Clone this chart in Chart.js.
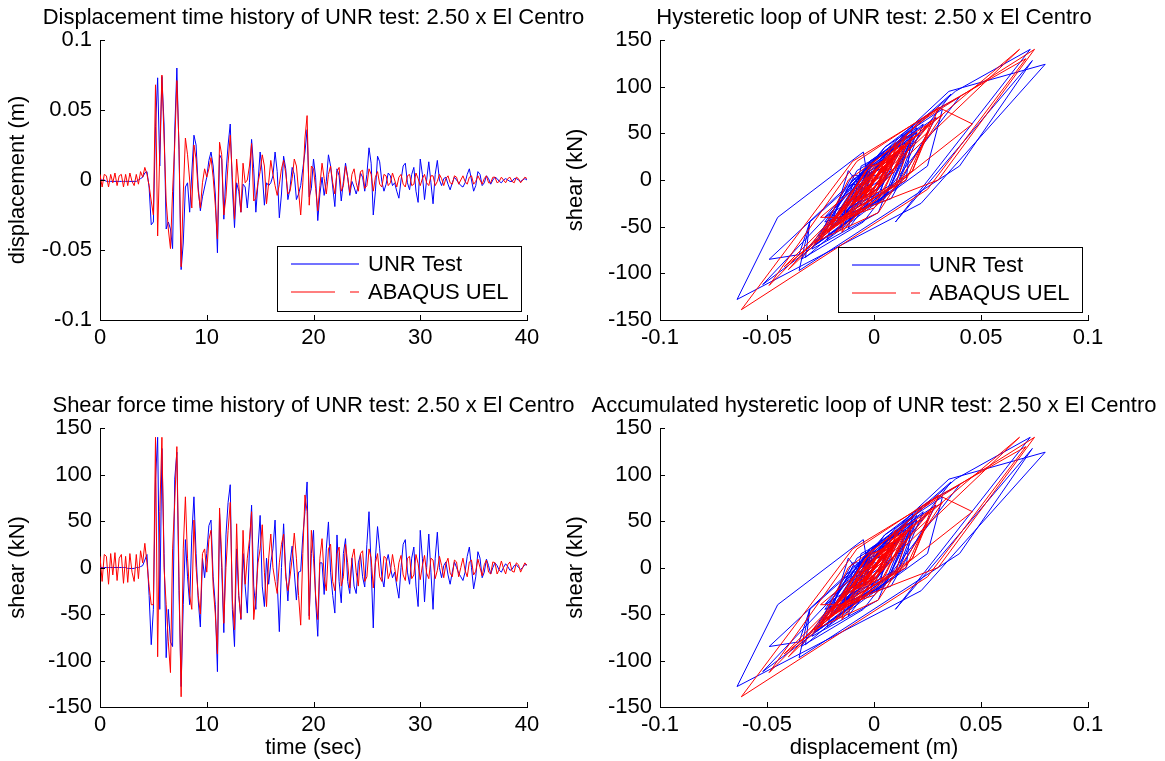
<!DOCTYPE html>
<html>
<head>
<meta charset="utf-8">
<script src="https://cdn.jsdelivr.net/npm/chart.js@4.4.1/dist/chart.umd.min.js"></script>
<style>
  html, body { margin: 0; padding: 0; background: #fff; }
  #wrap { position: relative; width: 1165px; height: 761px; }
  #wrap canvas { position: absolute; left: 0; top: 0; }
</style>
</head>
<body>
<div id="wrap">
  <canvas id="c1" width="1165" height="761"></canvas>
  <canvas id="c2" width="1165" height="761"></canvas>
  <canvas id="c3" width="1165" height="761"></canvas>
  <canvas id="c4" width="1165" height="761"></canvas>
</div>
<script>
// ---------------------------------------------------------------- DATA
// sampled every DT seconds, 0 .. 40 s (one row = 2 s)
var DT = 0.2;

var dispTest = [
  0, 0, 0, -0.001, -0.001, -0.001, -0.001, -0.001, -0.001, -0.001,
  -0.001, -0.001, -0.001, -0.001, -0.001, -0.001, -0.001, -0.001, 0, 0.001,
  0.002, 0.005, 0.006, -0.005, -0.032, -0.030, 0.038, 0.073, 0.010, 0.074,
  0.040, -0.035, -0.030, -0.035, -0.049, 0.035, 0.080, 0.022, -0.064, -0.045,
  -0.005, -0.002, -0.023, 0.005, 0.032, 0.025, -0.005, -0.022, -0.012, -0.005,
  0.002, 0.014, 0.020, 0.010, -0.010, -0.052, 0.018, 0.015, -0.028, 0.005,
  0.025, 0.040, -0.005, -0.034, -0.002, -0.008, -0.023, -0.003, -0.005, -0.020,
  -0.002, 0.029, 0.008, -0.023, -0.002, 0.020, 0.005, -0.018, -0.002, -0.004,
  -0.002, 0.003, 0.020, 0.006, -0.027, -0.010, 0.017, 0.008, -0.014, -0.006,
  0.009, 0.004, -0.014, -0.010, -0.004, 0.008, 0.020, 0.036, -0.012, -0.006,
  0.015, 0.002, -0.029, -0.010, 0.002, -0.011, -0.001, 0.018, 0.010, -0.005,
  -0.019, 0.008, 0.003, -0.015, -0.001, 0.012, 0.002, -0.011, -0.001, -0.005,
  -0.010, -0.004, 0.005, 0.002, -0.008, 0.004, 0.023, 0.012, -0.025, -0.008,
  0.017, 0.013, -0.001, -0.008, -0.003, 0.005, 0.003, -0.004, -0.002, -0.008,
  -0.013, 0, 0.010, 0.012, -0.002, -0.007, 0.004, 0.009, -0.008, -0.016,
  0.015, 0.004, -0.014, 0, 0.013, -0.002, -0.017, 0.004, 0.014, 0,
  -0.004, 0.001, 0.002, -0.003, -0.007, -0.002, 0.002, 0, -0.002, -0.004,
  -0.005, -0.002, 0.004, 0.008, 0, -0.008, -0.004, 0.006, 0.004, -0.004,
  -0.002, 0.003, 0.001, -0.003, 0, 0.002, 0.001, -0.001, -0.002, 0,
  0.001, 0, -0.001, -0.001, 0.001, 0.001, 0, -0.001, 0, 0.001,
  0
];

var dispUel = [
  0.004, -0.005, 0.004, 0.003, -0.005, 0.004, -0.002, 0.005, -0.004, 0.003,
  0.004, -0.005, 0.004, -0.004, 0.005, -0.001, -0.004, 0.004, -0.003, 0.006,
  0.002, 0.009, 0.004, -0.004, -0.015, -0.025, 0.068, -0.040, 0.020, 0.075,
  0.030, -0.015, -0.035, -0.049, -0.008, 0.025, 0.071, 0.025, -0.062, -0.010,
  0.030, 0.018, 0, -0.020, 0.025, 0.015, -0.008, -0.020, -0.002, 0.008,
  0.002, 0.008, 0.016, 0.002, -0.018, -0.042, 0.027, 0.018, -0.025, -0.012,
  0.012, 0.032, 0.002, -0.028, 0.015, -0.003, -0.023, 0.012, -0.002, 0,
  0.010, 0.026, -0.015, -0.013, -0.002, 0.006, 0.018, 0.010, -0.017, -0.002,
  0.014, 0.004, -0.004, -0.011, -0.003, 0.008, 0.014, 0.005, -0.010, -0.008,
  0.001, 0.015, 0.010, -0.008, -0.025, -0.002, 0.030, 0.046, -0.018, 0.010,
  0.008, -0.006, -0.022, -0.004, 0.012, 0.001, -0.010, 0.004, 0.010, -0.002,
  -0.010, 0.006, 0.009, -0.008, -0.004, 0.010, 0.002, -0.009, 0.004, 0.008,
  -0.002, -0.008, 0.006, 0.007, -0.006, -0.004, 0.008, 0.004, -0.008, 0.002,
  0.006, -0.003, -0.005, 0.004, 0.003, -0.004, -0.002, 0.005, 0, -0.005,
  0.002, 0.004, -0.003, -0.005, 0.003, 0.004, -0.004, -0.003, 0.005, 0.001,
  -0.004, 0.001, 0.004, -0.002, -0.004, 0.003, 0.003, -0.004, -0.001, 0.004,
  0.001, -0.004, 0.001, 0.003, -0.002, -0.003, 0.003, 0.002, -0.003, 0,
  0.003, -0.001, -0.003, 0.002, 0.003, -0.003, -0.001, 0.003, 0, -0.003,
  0.001, 0.003, -0.002, -0.002, 0.002, 0.002, -0.002, -0.001, 0.002, 0,
  -0.002, 0.001, 0.002, -0.001, -0.002, 0.002, 0.001, -0.002, 0, 0.002,
  0.001
];

var shearTest = [
  0, 0, 0, 0, 0, 0, 0, 0, 0, 0,
  0, 0, 0, -1, -1, -1, -1, 0, 0, 1,
  2, 8, 14, -30, -83, -45, 95, 140, -45, 128,
  15, -97, -45, -80, -85, 95, 124, -25, -128, -40,
  30, -10, -40, 35, 76, 15, -35, -64, 10, -11,
  15, 45, 51, -10, -40, -112, 58, 0, -70, 35,
  70, 89, -45, -85, 20, -30, -56, 15, -20, -49,
  20, 67, -20, -45, 20, 56, -20, -42, 10, -18,
  5, 20, 51, -15, -69, 0, 47, -5, -36, 5,
  23, -5, -35, -5, -4, 34, 60, 92, -52, 15,
  40, -35, -74, 5, 5, -29, 20, 49, -5, -30,
  -49, 35, -15, -38, 15, 31, -15, -28, 10, -20,
  -28, 5, 14, -10, -21, 25, 60, 0, -65, 10,
  44, 20, -10, -21, 5, 14, 0, -11, -5, -20,
  -33, 0, 25, 30, -5, -18, 10, 22, -20, -42,
  40, 10, -37, 0, 36, -5, -45, 10, 38, 0,
  -11, 2, 6, -8, -18, -5, 6, 0, -6, -10,
  -14, -5, 12, 22, 0, -23, -10, 17, 10, -11,
  -5, 9, 2, -7, 0, 5, 2, -3, -5, 0,
  4, 1, -3, -2, 2, 3, 0, -2, 0, 3,
  3
];

var shearUel = [
  12, -15, 14, 12, -18, 15, -8, 16, -14, 10,
  14, -17, 12, -16, 15, -5, -15, 14, -12, 18,
  5, 26, 5, -20, -40, -40, 140, -96, 60, 140,
  0, -40, -80, -113, 20, 70, 130, -10, -139, 20,
  76, 10, -30, -45, 51, 0, -30, -50, 15, 20,
  -5, 30, 40, -20, -50, -93, 64, 10, -60, 0,
  40, 70, -35, -67, 47, -30, -55, 40, -18, 10,
  30, 60, -56, -30, 5, 20, 46, -5, -42, 10,
  36, 0, -15, -28, 5, 25, 36, -10, -25, -10,
  10, 37, 10, -30, -62, 15, 78, 60, -56, 40,
  10, -30, -56, 10, 31, -10, -25, 20, 25, -15,
  -25, 15, 22, -20, -10, 25, 5, -22, 10, 20,
  -5, -20, 15, 18, -15, -10, 20, 10, -22, 5,
  15, -10, -15, 12, 10, -12, -5, 14, 0, -15,
  5, 13, -8, -14, 10, 12, -12, -8, 14, 4,
  -13, 2, 13, -6, -12, 10, 8, -12, -3, 12,
  2, -11, 4, 10, -6, -10, 8, 6, -10, 0,
  10, -3, -10, 6, 8, -8, -4, 9, 0, -9,
  3, 8, -5, -7, 6, 5, -7, -2, 7, -1,
  -7, 3, 6, -4, -5, 5, 3, -5, 0, 5,
  2
];

var seriesNames = ['UNR Test', 'ABAQUS UEL'];
var timeTicks = [0, 40, 10];        // min, max, step
var dispTicks = [-0.1, 0.1, 0.05];
var shearTicks = [-150, 150, 50];

var time = shearTest.map(function (v, i) { return +(i * DT).toFixed(1); });

// ---------------------------------------------------------------- HELPERS
var W = 1165, H = 761;
var FONT = '"Liberation Sans", Arial, Helvetica, sans-serif';
var FS = 22;

function pairs(xs, ys) {
  return xs.map(function (x, i) { return { x: x, y: ys[i] }; });
}

function fmt(v) { return String(+v.toFixed(2)); }

function lineSet(label, pts, color, order) {
  return {
    label: label, data: pts, borderColor: color, backgroundColor: color,
    borderWidth: 1, pointRadius: 0, tension: 0, fill: false, order: order
  };
}

// inward ticks, titles, axis labels, legend box (MATLAB style)
var framePlugin = {
  id: 'frame',
  afterDraw: function (chart, args, o) {
    var ctx = chart.ctx, a = chart.chartArea;
    var sx = chart.scales.x, sy = chart.scales.y;
    ctx.save();
    ctx.strokeStyle = '#000';
    ctx.lineWidth = 1;
    ctx.beginPath();
    sx.ticks.forEach(function (t) {
      var p = Math.round(sx.getPixelForValue(t.value)) + 0.5;
      ctx.moveTo(p, a.bottom); ctx.lineTo(p, a.bottom - 5);
    });
    sy.ticks.forEach(function (t) {
      var p = Math.round(sy.getPixelForValue(t.value)) + 0.5;
      ctx.moveTo(a.left, p); ctx.lineTo(a.left + 5, p);
    });
    ctx.stroke();

    ctx.fillStyle = '#000';
    ctx.font = FS + 'px ' + FONT;
    ctx.textAlign = 'center';
    ctx.textBaseline = 'middle';
    var cx = (a.left + a.right) / 2, cy = (a.top + a.bottom) / 2;
    ctx.fillText(o.title, cx, a.top - 22);
    if (o.xlabel) ctx.fillText(o.xlabel, cx, o.xlabelY);
    ctx.save();
    ctx.translate(o.ylabelX, cy);
    ctx.rotate(-Math.PI / 2);
    ctx.fillText(o.ylabel, 0, 0);
    ctx.restore();

    if (o.legend) {
      var L = o.legend;
      ctx.fillStyle = '#fff';
      ctx.fillRect(L[0], L[1], 244, 65);
      ctx.strokeRect(L[0] + 0.5, L[1] + 0.5, 244, 65);
      ctx.lineWidth = 2;
      ctx.strokeStyle = 'rgba(0,0,255,0.55)';
      ctx.beginPath(); ctx.moveTo(L[0] + 14, L[1] + 18); ctx.lineTo(L[0] + 82, L[1] + 18); ctx.stroke();
      ctx.lineWidth = 1.2;
      ctx.strokeStyle = '#f00';
      ctx.setLineDash([44, 15, 9, 30]);
      ctx.beginPath(); ctx.moveTo(L[0] + 14, L[1] + 46); ctx.lineTo(L[0] + 82, L[1] + 46); ctx.stroke();
      ctx.setLineDash([]);
      ctx.fillStyle = '#000';
      ctx.textAlign = 'left';
      ctx.fillText(seriesNames[0], L[0] + 91, L[1] + 19);
      ctx.fillText(seriesNames[1], L[0] + 91, L[1] + 47);
    }
    ctx.restore();
  }
};

function axis(t, size, isX) {
  var ax = {
    type: 'linear', min: t[0], max: t[1],
    grid: { display: false, drawTicks: false },
    border: { display: true, color: '#000', width: 1 },
    ticks: {
      stepSize: t[2], autoSkip: false, maxRotation: 0, padding: isX ? 5 : 8,
      color: '#000', font: { family: FONT, size: FS },
      callback: function (v) { return fmt(v); }
    }
  };
  ax.afterFit = function (s) { if (isX) s.height = size; else s.width = size; };
  return ax;
}

// box = [left, top, right, bottom] of the plot area in page pixels
function panel(id, box, xt, yt, sets, frame) {
  return new Chart(document.getElementById(id), {
    type: 'line',
    data: { datasets: sets },
    options: {
      responsive: false, animation: false, events: [],
      layout: { padding: { left: box[0] - 70, right: W - box[2], top: box[1], bottom: H - box[3] - 40 } },
      plugins: { legend: { display: false }, tooltip: { enabled: false }, frame: frame },
      scales: { x: axis(xt, 40, true), y: axis(yt, 70, false) }
    },
    plugins: [framePlugin]
  });
}

// ---------------------------------------------------------------- CHARTS
panel('c1', [100, 40, 527, 320], timeTicks, dispTicks, [
  lineSet(seriesNames[0], pairs(time, dispTest), '#0000ff', 1),
  lineSet(seriesNames[1], pairs(time, dispUel), '#ff0000', 0)
], { title: 'Displacement time history of UNR test: 2.50 x El Centro', ylabel: 'displacement (m)', ylabelX: 18, legend: [277, 246] });

panel('c2', [660, 40, 1088, 320], dispTicks, shearTicks, [
  lineSet(seriesNames[0], pairs(dispTest, shearTest), '#0000ff', 1),
  lineSet(seriesNames[1], pairs(dispUel, shearUel), '#ff0000', 0)
], { title: 'Hysteretic loop of UNR test: 2.50 x El Centro', ylabel: 'shear (kN)', ylabelX: 576, legend: [838, 247] });

panel('c3', [100, 428, 527, 707], timeTicks, shearTicks, [
  lineSet(seriesNames[0], pairs(time, shearTest), '#0000ff', 1),
  lineSet(seriesNames[1], pairs(time, shearUel), '#ff0000', 0)
], { title: 'Shear force time history of UNR test: 2.50 x El Centro', ylabel: 'shear (kN)', ylabelX: 18, xlabel: 'time (sec)', xlabelY: 748 });

panel('c4', [660, 428, 1088, 707], dispTicks, shearTicks, [
  lineSet(seriesNames[0], pairs(dispTest, shearTest), '#0000ff', 1),
  lineSet(seriesNames[1], pairs(dispUel, shearUel), '#ff0000', 0)
], { title: 'Accumulated hysteretic loop of UNR test: 2.50 x El Centro', ylabel: 'shear (kN)', ylabelX: 576, xlabel: 'displacement (m)', xlabelY: 748 });
</script>
</body>
</html>
